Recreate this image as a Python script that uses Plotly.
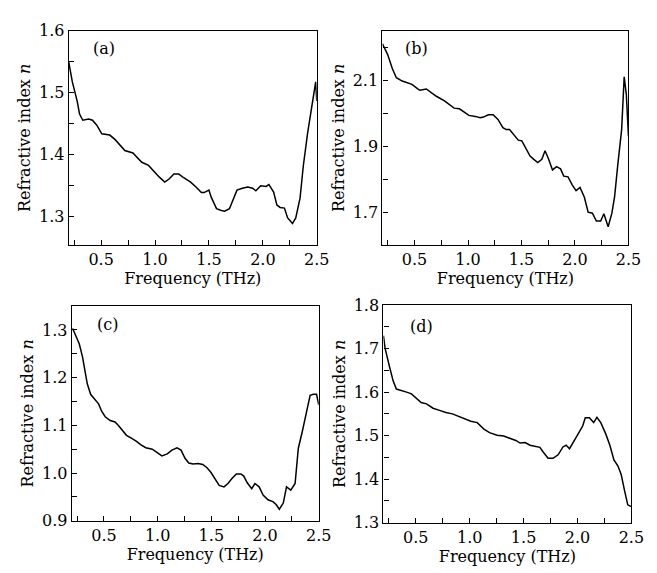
import plotly.graph_objects as go

# panel (a)
freq_a = [0.20, 0.233, 0.278, 0.30, 0.33, 0.385, 0.42, 0.46, 0.506, 0.536, 0.58, 0.628, 0.673, 0.72,
          0.795, 0.84, 0.877, 0.94, 0.99, 1.04, 1.09, 1.13, 1.175, 1.22, 1.266, 1.33, 1.38, 1.43,
          1.455, 1.50, 1.52, 1.57, 1.615, 1.646, 1.69, 1.72, 1.76, 1.81, 1.86, 1.905, 1.935, 1.98,
          2.03, 2.056, 2.10, 2.13, 2.16, 2.20, 2.23, 2.275, 2.305, 2.345, 2.375, 2.415, 2.457, 2.49, 2.50]
n_a = [1.549, 1.517, 1.486, 1.465, 1.455, 1.457, 1.455, 1.447, 1.433, 1.432, 1.431, 1.424, 1.415, 1.406,
       1.402, 1.394, 1.387, 1.382, 1.372, 1.363, 1.355, 1.360, 1.368, 1.368, 1.362, 1.355, 1.347, 1.338,
       1.338, 1.342, 1.331, 1.312, 1.309, 1.308, 1.312, 1.324, 1.342, 1.345, 1.347, 1.345, 1.341, 1.349,
       1.348, 1.351, 1.339, 1.318, 1.314, 1.313, 1.297, 1.288, 1.297, 1.329, 1.381, 1.434, 1.481, 1.517, 1.486]

# panel (b)
freq_b = [0.20, 0.248, 0.293, 0.33, 0.385, 0.445, 0.476, 0.527, 0.55, 0.61, 0.658, 0.704, 0.78, 0.825,
          0.87, 0.92, 0.962, 1.008, 1.068, 1.114, 1.144, 1.19, 1.235, 1.28, 1.326, 1.357, 1.388, 1.433,
          1.47, 1.503, 1.545, 1.58, 1.615, 1.652, 1.69, 1.72, 1.752, 1.79, 1.828, 1.865, 1.895, 1.935,
          1.975, 2.01, 2.047, 2.087, 2.123, 2.163, 2.20, 2.24, 2.27, 2.31, 2.345, 2.37, 2.40, 2.42,
          2.436, 2.46, 2.48, 2.50]
n_b = [2.21, 2.178, 2.134, 2.107, 2.097, 2.09, 2.087, 2.074, 2.069, 2.073, 2.061, 2.051, 2.037, 2.025,
       2.015, 2.013, 2.003, 1.993, 1.99, 1.986, 1.988, 1.995, 1.995, 1.981, 1.956, 1.95, 1.95, 1.932,
       1.918, 1.916, 1.891, 1.87, 1.86, 1.85, 1.86, 1.886, 1.862, 1.828, 1.838, 1.831, 1.809, 1.807,
       1.782, 1.765, 1.775, 1.746, 1.70, 1.697, 1.673, 1.673, 1.695, 1.656, 1.697, 1.746, 1.843, 1.896,
       1.95, 2.11, 2.056, 1.93]

# panel (c)
freq_c = [0.209, 0.24, 0.27, 0.30, 0.32, 0.345, 0.376, 0.41, 0.45, 0.48, 0.512, 0.558, 0.603, 0.633,
          0.664, 0.71, 0.755, 0.80, 0.845, 0.89, 0.95, 1.0, 1.04, 1.09, 1.133, 1.18, 1.218, 1.255, 1.29,
          1.33, 1.376, 1.42, 1.46, 1.497, 1.533, 1.573, 1.618, 1.655, 1.694, 1.733, 1.775, 1.80, 1.836,
          1.876, 1.906, 1.945, 1.982, 2.027, 2.073, 2.103, 2.133, 2.17, 2.20, 2.24, 2.28, 2.31, 2.345,
          2.38, 2.42, 2.45, 2.48, 2.50]
n_c = [1.303, 1.288, 1.271, 1.244, 1.22, 1.187, 1.165, 1.156, 1.145, 1.129, 1.118, 1.11, 1.107, 1.10,
       1.091, 1.079, 1.073, 1.067, 1.059, 1.053, 1.05, 1.042, 1.036, 1.04, 1.048, 1.053, 1.048, 1.031,
       1.021, 1.019, 1.02, 1.018, 1.011, 1.001, 0.989, 0.974, 0.971, 0.978, 0.989, 0.998, 0.998, 0.994,
       0.979, 0.967, 0.978, 0.971, 0.954, 0.944, 0.94, 0.934, 0.924, 0.937, 0.971, 0.964, 0.978, 1.052,
       1.085, 1.123, 1.163, 1.165, 1.165, 1.143]

# panel (d)
freq_d = [0.20, 0.216, 0.256, 0.29, 0.32, 0.37, 0.415, 0.46, 0.506, 0.55, 0.60, 0.66, 0.72, 0.78, 0.84,
          0.90, 0.964, 1.01, 1.07, 1.132, 1.184, 1.254, 1.315, 1.376, 1.428, 1.468, 1.514, 1.56, 1.605,
          1.651, 1.68, 1.727, 1.773, 1.82, 1.865, 1.895, 1.926, 1.97, 2.017, 2.048, 2.072, 2.11, 2.15,
          2.18, 2.216, 2.262, 2.30, 2.338, 2.375, 2.405, 2.436, 2.466, 2.50]
n_d = [1.73, 1.70, 1.659, 1.626, 1.607, 1.604, 1.60, 1.596, 1.585, 1.576, 1.573, 1.563, 1.558, 1.553,
       1.55, 1.544, 1.537, 1.533, 1.53, 1.515, 1.507, 1.501, 1.499, 1.494, 1.489, 1.483, 1.484, 1.478,
       1.476, 1.473, 1.463, 1.448, 1.448, 1.456, 1.474, 1.478, 1.47, 1.489, 1.511, 1.522, 1.541, 1.541,
       1.53, 1.542, 1.53, 1.504, 1.478, 1.444, 1.43, 1.411, 1.374, 1.341, 1.337]

panel_labels = ["(a)", "(b)", "(c)", "(d)"]

FONT = "DejaVu Serif"
W, H = 657, 573

# plot boxes in pixels: (left, right, top, bottom)
boxes = [(62, 315, 14, 236), (382, 633, 14, 236), (65, 317, 299, 521), (383, 636, 298, 523)]
yranges = [[1.253, 1.6], [1.6, 2.25], [0.9, 1.35], [1.3, 1.8]]
ydticks = [(0.1, 0.05, 1.3), (0.2, 0.1, 1.7), (0.1, 0.05, 0.9), (0.1, 0.05, 1.3)]
label_pos = [(0.09, 0.914), (0.083, 0.914), (0.094, 0.914), (0.098, 0.902)]

series = [(freq_a, n_a), (freq_b, n_b), (freq_c, n_c), (freq_d, n_d)]

fig = go.Figure()
layout = {}
for i, ((fx, fy), box) in enumerate(zip(series, boxes)):
    k = "" if i == 0 else str(i + 1)
    fig.add_trace(go.Scatter(x=fx, y=fy, mode="lines", xaxis="x" + k, yaxis="y" + k,
                             line=dict(color="black", width=1.5), showlegend=False))
    l, r, t, b = box
    common = dict(showline=True, mirror=True, linecolor="black", linewidth=1.2,
                  ticks="inside", ticklen=5, tickwidth=1, tickcolor="black",
                  showgrid=False, zeroline=False, tickformat=".1f",
                  tickfont=dict(family=FONT, size=16, color="black"))
    layout["xaxis" + k] = dict(common, domain=[l / W, r / W], anchor="y" + k,
                               range=[0.2, 2.5], tick0=0.5, dtick=0.5,
                               minor=dict(ticks="inside", ticklen=5, dtick=0.25, tick0=0.25,
                                          tickcolor="black"),
                               title=dict(text="Frequency (THz)", standoff=3,
                                          font=dict(family=FONT, size=16, color="black")))
    major, minor, t0 = ydticks[i]
    layout["yaxis" + k] = dict(common, domain=[1 - b / H, 1 - t / H], anchor="x" + k,
                               range=yranges[i], tick0=t0, dtick=major,
                               minor=dict(ticks="inside", ticklen=5, dtick=minor, tick0=t0,
                                          tickcolor="black"),
                               title=dict(text="Refractive index <i>n</i>", standoff=4,
                                          font=dict(family=FONT, size=16, color="black")))
    lx, ly = label_pos[i]
    fig.add_annotation(text=panel_labels[i], xref="x" + k + " domain", yref="y" + k + " domain",
                       x=lx, y=ly, xanchor="left", yanchor="middle", showarrow=False,
                       font=dict(family=FONT, size=16, color="black"))

fig.update_layout(**layout)
fig.update_layout(width=W, height=H, margin=dict(l=0, r=0, t=0, b=0),
                  paper_bgcolor="white", plot_bgcolor="white")

fig.write_html("out.html")
